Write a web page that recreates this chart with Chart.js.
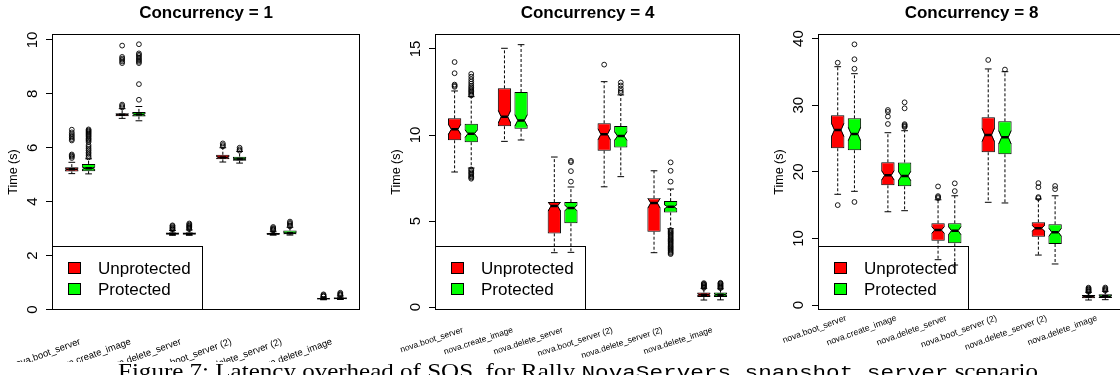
<!DOCTYPE html>
<html>
<head>
<meta charset="utf-8">
<script src="https://cdn.jsdelivr.net/npm/chart.js@4.4.1/dist/chart.umd.min.js"></script>
<style>
html,body{margin:0;padding:0;width:1120px;height:375px;overflow:hidden;background:#fff;position:relative;}
canvas{position:absolute;top:0;}
.ptitle{position:absolute;top:3px;font:bold 17px "Liberation Sans",Arial,sans-serif;line-height:20px;text-align:center;white-space:nowrap;color:#000;}
.legend{position:absolute;border:1px solid #000;box-sizing:border-box;}
.sw{position:absolute;width:13px;height:12px;border:1px solid #000;box-sizing:border-box;}
.lt{position:absolute;font:17px "Liberation Sans",Arial,sans-serif;line-height:20px;white-space:nowrap;color:#000;}
#band{position:absolute;left:0;top:362px;width:1120px;height:20px;background:#fff;}
#caption{position:absolute;left:118px;top:359px;font:21px "Liberation Serif","DejaVu Serif",serif;line-height:24px;white-space:nowrap;color:#000;transform-origin:0 0;}
#caption .mono{font-family:"Liberation Mono","DejaVu Sans Mono",monospace;font-size:19px;}
</style>
</head>
<body>
<div id="band"></div>
<div id="caption"><span>Figure 7: Latency overhead of SOS, for Rally </span><span class="mono">NovaServers.snapshot_server</span><span> scenario</span></div>
<script>
// ---------------- data ----------------
const categories = ['nova.boot_server','nova.create_image','nova.delete_server','nova.boot_server (2)','nova.delete_server (2)','nova.delete_image'];
const seriesNames = ['Unprotected','Protected'];
const seriesColors = ['#ff0000','#00ff00'];

// [lower whisker, Q1, median, Q3, upper whisker] per category
const c1Unprotected = [[5.04,5.12,5.20,5.28,5.46],[7.09,7.17,7.22,7.28,7.45],[2.75,2.78,2.81,2.86,2.93],[5.47,5.57,5.64,5.74,6.00],[2.76,2.78,2.80,2.84,2.90],[0.36,0.38,0.40,0.42,0.46]];
const c1Protected   = [[5.03,5.13,5.24,5.40,5.59],[7.00,7.16,7.23,7.33,7.53],[2.75,2.78,2.81,2.86,2.95],[5.43,5.52,5.58,5.67,5.86],[2.76,2.79,2.83,2.93,3.05],[0.37,0.39,0.41,0.44,0.50]];
const c1UnprotectedNotch = [0.02,0.02,0.01,0.03,0.01,0.01];
const c1ProtectedNotch   = [0.04,0.03,0.01,0.02,0.02,0.01];
const c1UnprotectedOutliers = [[5.62,5.67,5.71,5.75,6.27,6.32,6.38,6.44,6.50,6.57,6.67],[7.50,7.55,7.60,9.14,9.20,9.26,9.31,9.37,9.79],[2.96,2.99,3.02,3.05,3.09,3.12],[6.05,6.10,6.16],[2.93,2.96,2.99,3.02,3.06],[0.48,0.50,0.53,0.56]];
const c1ProtectedOutliers   = [[5.64,5.70,5.77,5.83,5.90,5.96,6.03,6.10,6.21,6.26,6.31,6.35,6.40,6.44,6.48,6.52,6.56,6.60,6.64,6.68],[7.78,8.36,9.14,9.19,9.24,9.29,9.34,9.40,9.45,9.50,9.84],[2.98,3.02,3.05,3.08,3.11,3.15,3.19],[5.89,5.94,6.00],[3.08,3.12,3.17,3.21,3.26],[0.52,0.55,0.58,0.62]];
const c1YTicks = [0,2,4,6,8,10];

const c4Unprotected = [[7.85,9.69,10.33,10.97,12.56],[9.63,10.51,11.06,12.71,15.04],[3.16,4.28,5.88,6.10,8.72],[6.99,9.09,10.04,10.68,13.10],[3.16,4.38,6.05,6.32,7.92],[0.41,0.58,0.72,0.85,1.09]];
const c4Protected   = [[8.08,9.58,10.08,10.66,12.23],[9.71,10.37,10.85,12.50,15.25],[3.18,4.87,5.76,6.10,6.98],[7.58,9.28,9.94,10.52,12.33],[4.55,5.50,5.83,6.16,6.86],[0.42,0.59,0.72,0.84,1.06]];
const c4UnprotectedNotch = [0.29,0.36,0.30,0.32,0.30,0.04];
const c4ProtectedNotch   = [0.22,0.33,0.17,0.25,0.12,0.04];
const c4UnprotectedOutliers = [[12.80,12.86,12.93,13.59,14.24],[],[],[14.09],[],[1.12,1.17,1.21,1.26,1.30,1.35,1.39]];
const c4ProtectedOutliers   = [[7.46,7.53,7.60,7.68,7.77,7.84,7.93,8.00,12.30,12.37,12.45,12.53,12.60,12.68,12.77,12.86,12.98,13.10,13.24,13.39,13.55],[],[7.29,7.90,8.42,8.50],[12.45,12.56,12.70,12.88,13.05],[3.08,3.14,3.20,3.27,3.33,3.40,3.47,3.53,3.60,3.67,3.73,3.80,3.87,3.93,4.00,4.07,4.13,4.20,4.27,4.33,4.40,4.47,7.29,7.92,8.41],[1.10,1.15,1.19,1.24,1.28,1.33,1.37,1.41]];
const c4YTicks = [0,5,10,15];

const c8Unprotected = [[16.62,23.53,26.28,28.48,35.78],[14.00,17.97,19.47,21.43,25.87],[6.80,9.66,11.26,12.27,15.80],[15.42,22.93,25.53,28.18,35.44],[7.50,10.26,11.52,12.42,15.92],[0.75,1.00,1.25,1.50,1.90]];
const c8Protected   = [[17.07,23.23,25.68,28.03,34.73],[14.16,17.82,19.37,21.40,26.17],[6.00,9.26,11.16,12.27,16.40],[15.32,22.63,25.18,27.58,35.03],[6.16,9.16,10.92,12.12,16.40],[0.80,1.05,1.30,1.60,2.05]];
const c8UnprotectedNotch = [1.0,0.7,0.5,1.0,0.45,0.1];
const c8ProtectedNotch   = [1.0,0.7,0.6,1.0,0.6,0.1];
const c8UnprotectedOutliers = [[15.00,36.38],[27.18,28.30,29.00,29.28],[16.05,16.20,16.35,17.80],[36.79],[16.05,16.20,17.70,18.30],[1.98,2.08,2.20,2.32,2.45,2.60]];
const c8ProtectedOutliers   = [[15.47,35.47,36.90,39.14],[26.72,26.85,27.00,27.15,29.53,30.43],[17.10,18.27],[35.35],[17.40,17.87],[2.15,2.30,2.45,2.62]];
const c8YTicks = [0,10,20,30,40];

// ---------------- layout ----------------
Chart.defaults.font.family = '"Liberation Sans", Arial, Helvetica, sans-serif';
Chart.defaults.color = '#000';

const PLOT_TOP = 34, PLOT_BOTTOM = 310, H = 375;
const panels = [
  {title:'Concurrency = 1', stats:[c1Unprotected,c1Protected], notch:[c1UnprotectedNotch,c1ProtectedNotch], outl:[c1UnprotectedOutliers,c1ProtectedOutliers], yTicks:c1YTicks, yMin:-0.02, yMax:10.22,
   left:0, width:365, yw:52, padR:4, xPad:26, xRot:20, xFont:9.5},
  {title:'Concurrency = 4', stats:[c4Unprotected,c4Protected], notch:[c4UnprotectedNotch,c4ProtectedNotch], outl:[c4UnprotectedOutliers,c4ProtectedOutliers], yTicks:c4YTicks, yMin:-0.17, yMax:15.87,
   left:365, width:380, yw:70, padR:3, xPad:15, xRot:18, xFont:8.5},
  {title:'Concurrency = 8', stats:[c8Unprotected,c8Protected], notch:[c8UnprotectedNotch,c8ProtectedNotch], outl:[c8UnprotectedOutliers,c8ProtectedOutliers], yTicks:c8YTicks, yMin:-0.75, yMax:40.69,
   left:745, width:385, yw:73, padR:5, xPad:3, xRot:20, xFont:8.7}
];

const framePlugin = {
  id:'frame',
  afterDraw(chart){
    const a = chart.chartArea, ctx = chart.ctx;
    ctx.save();
    ctx.strokeStyle = '#000'; ctx.lineWidth = 1;
    ctx.strokeRect(Math.round(a.left)+0.5, Math.round(a.top)+0.5, Math.round(a.right-a.left)-1, Math.round(a.bottom-a.top)-1);
    ctx.restore();
  }
};

function makeNotchPlugin(p){
  return {
    id:'notch',
    afterDatasetDraw(chart, args){
      if (args.index > 1) return;
      const s = args.index, ys = chart.scales.y, ctx = chart.ctx, a = chart.chartArea;
      ctx.save();
      ctx.beginPath(); ctx.rect(a.left, a.top, a.right-a.left, a.bottom-a.top); ctx.clip();
      args.meta.data.forEach((el, i) => {
        const st = p.stats[s][i], nh = p.notch[s][i];
        const w = el.width, l = el.x - w/2, r = el.x + w/2, ind = w/4;
        const yM = ys.getPixelForValue(st[2]);
        const yH = ys.getPixelForValue(Math.min(st[2]+nh, st[3]));
        const yL = ys.getPixelForValue(Math.max(st[2]-nh, st[1]));
        ctx.fillStyle = '#fff';
        ctx.beginPath(); ctx.moveTo(l-1,yH); ctx.lineTo(l,yH); ctx.lineTo(l+ind,yM); ctx.lineTo(l,yL); ctx.lineTo(l-1,yL); ctx.closePath(); ctx.fill();
        ctx.beginPath(); ctx.moveTo(r+1,yH); ctx.lineTo(r,yH); ctx.lineTo(r-ind,yM); ctx.lineTo(r,yL); ctx.lineTo(r+1,yL); ctx.closePath(); ctx.fill();
        ctx.strokeStyle = '#000'; ctx.lineWidth = 1;
        ctx.beginPath(); ctx.moveTo(l+0.5,yH); ctx.lineTo(l+ind,yM); ctx.lineTo(l+0.5,yL); ctx.stroke();
        ctx.beginPath(); ctx.moveTo(r-0.5,yH); ctx.lineTo(r-ind,yM); ctx.lineTo(r-0.5,yL); ctx.stroke();
      });
      ctx.restore();
    }
  };
}

function makePanel(p){
  const cv = document.createElement('canvas');
  cv.width = p.width; cv.height = H;
  cv.style.left = p.left + 'px';
  cv.style.width = p.width + 'px'; cv.style.height = H + 'px';
  document.body.insertBefore(cv, document.getElementById('band'));

  const pos = (i, s) => 3*i + 1 + s;     // R boxplot 'at' positions
  const half = 0.2;                       // half staple / median length (x units)
  const datasets = [];
  const whisk = [], caps = [], meds = [], pts = [];
  p.stats.forEach((st, s) => {
    datasets.push({
      type:'bar', label:seriesNames[s],
      data: st.map((v, i) => ({x: pos(i,s), y: [v[1], v[3]]})),
      backgroundColor: seriesColors[s], borderColor:'#000', borderWidth:1, borderSkipped:false,
      grouped:false, categoryPercentage:0.8, barPercentage:1, order:4
    });
    st.forEach((v, i) => {
      const x = pos(i,s);
      whisk.push({x, y:v[3]}, {x, y:v[4]}, {x, y:null}, {x, y:v[1]}, {x, y:v[0]}, {x, y:null});
      caps.push({x:x-half, y:v[4]}, {x:x+half, y:v[4]}, {x, y:null}, {x:x-half, y:v[0]}, {x:x+half, y:v[0]}, {x, y:null});
      meds.push({x:x-half, y:v[2]}, {x:x+half, y:v[2]}, {x, y:null});
      p.outl[s][i].forEach(o => pts.push({x, y:o}));
    });
  });
  datasets.push({type:'line', label:'whiskers', data:whisk, borderColor:'#000', borderWidth:1, borderDash:[3,2], pointRadius:0, spanGaps:false, fill:false, order:5});
  datasets.push({type:'line', label:'staples', data:caps, borderColor:'#000', borderWidth:1, pointRadius:0, spanGaps:false, fill:false, order:5});
  datasets.push({type:'line', label:'medians', data:meds, borderColor:'#000', borderWidth:2.5, borderCapStyle:'butt', pointRadius:0, spanGaps:false, fill:false, order:2});
  datasets.push({type:'scatter', label:'outliers', data:pts, showLine:false, pointStyle:'circle', pointRadius:2.4, pointBorderWidth:0.9, pointBorderColor:'#000', pointBackgroundColor:'rgba(0,0,0,0)', order:1});

  const chart = new Chart(cv.getContext('2d'), {
    type:'bar',
    data:{datasets},
    plugins:[framePlugin, makeNotchPlugin(p)],
    options:{
      responsive:false, animation:false, events:[], devicePixelRatio:1,
      layout:{padding:{top:PLOT_TOP, right:p.padR, left:0, bottom:0}},
      plugins:{legend:{display:false}, tooltip:{enabled:false}, title:{display:false}},
      scales:{
        x:{
          type:'linear', min:-0.18, max:18.18, offset:false,
          afterBuildTicks: a => { a.ticks = categories.map((c, i) => ({value: 3*i + 1.5})); },
          ticks:{autoSkip:false, minRotation:p.xRot, maxRotation:p.xRot, padding:p.xPad, font:{size:p.xFont}, color:'#000', callback:(v, i) => categories[i]},
          grid:{display:false, drawTicks:false}, border:{display:false},
          afterFit: a => { a.height = H - PLOT_BOTTOM; a.paddingLeft = 0; a.paddingRight = 0; }
        },
        y:{
          type:'linear', min:p.yMin, max:p.yMax,
          afterBuildTicks: a => { a.ticks = p.yTicks.map(v => ({value:v})); },
          ticks:{autoSkip:false, minRotation:90, maxRotation:90, crossAlign:'center', padding:4.7, font:{size:15}, color:'#000', callback: v => String(v)},
          grid:{drawOnChartArea:false, drawTicks:true, tickLength:6, color:'#000', lineWidth:1},
          border:{display:false},
          title:{display:true, text:'Time (s)', font:{size:12.5}, color:'#000', padding:{top:p.yw - 38 - 7.5, bottom:0}},
          afterFit: a => { a.width = p.yw; a.paddingTop = 0; a.paddingBottom = 0; }
        }
      }
    }
  });

  const ca = chart.chartArea;
  const t = document.createElement('div');
  t.className = 'ptitle'; t.textContent = p.title;
  t.style.left = (p.left + ca.left) + 'px'; t.style.width = (ca.right - ca.left) + 'px';
  document.body.appendChild(t);

  const lg = document.createElement('div');
  lg.className = 'legend';
  lg.style.left = (p.left + Math.round(ca.left)) + 'px';
  lg.style.top = '246px'; lg.style.width = '151px'; lg.style.height = (Math.round(ca.bottom) - 246) + 'px';
  seriesNames.forEach((n, s) => {
    const sw = document.createElement('div');
    sw.className = 'sw'; sw.style.background = seriesColors[s];
    sw.style.left = '15px'; sw.style.top = (15 + 21*s) + 'px';
    lg.appendChild(sw);
    const tx = document.createElement('div');
    tx.className = 'lt'; tx.textContent = n;
    tx.style.left = '45px'; tx.style.top = (12 + 21*s) + 'px';
    lg.appendChild(tx);
  });
  document.body.appendChild(lg);
}

panels.forEach(makePanel);

// fit caption to its width in the reference
const cap = document.getElementById('caption');
const cw = cap.getBoundingClientRect().width;
cap.style.transform = 'scaleX(' + (920 / cw) + ')';
</script>
</body>
</html>
